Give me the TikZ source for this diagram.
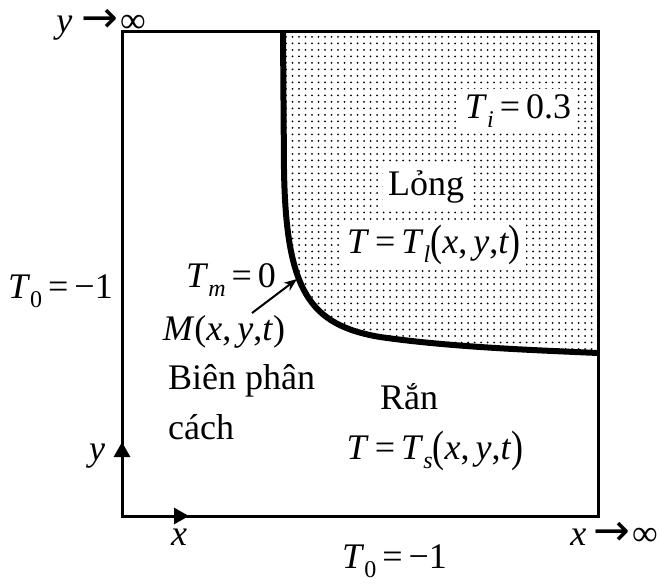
\documentclass[tikz,border=0pt]{standalone}
\usepackage{fontspec}
\setmainfont{Liberation Serif}
\newfontfamily\dvfont{DejaVu Sans}
\usepackage{graphicx}
\usetikzlibrary{arrows.meta,patterns}
\pgfdeclarepatternformonly{mydots}{\pgfqpoint{-1pt}{-1pt}}{\pgfqpoint{1pt}{1pt}}{\pgfqpoint{6.5pt}{6.5pt}}{\pgfpathcircle{\pgfqpoint{0pt}{0pt}}{1pt}\pgfusepath{fill}}
\newcommand{\vi}[1]{\textit{#1}}
\newcommand{\sbs}[1]{\raisebox{-0.26em}{\fontsize{24}{24}\selectfont #1}}
\newcommand{\bp}[1]{\raisebox{-0.08em}{\scalebox{1}[1.22]{#1}}}
\newcommand{\eqs}{\,=\,}
\newcommand{\toar}{{\dvfont\fontsize{44}{44}\selectfont →}}
\begin{document}
\begin{tikzpicture}[x=1pt,y=-1pt,
  every node/.style={font=\fontsize{36}{42}\selectfont, inner sep=0pt},
  lbl/.style={anchor=base},
  wlbl/.style={anchor=base, fill=white, inner xsep=5pt, inner ysep=5pt},
  boxline/.style={line width=3pt, line join=miter},
  front/.style={line width=6pt, line cap=butt},
  axisarrow/.style={line width=3pt, -{Triangle[length=15pt,width=16pt]}},
  pointer/.style={line width=2pt, -{Stealth[length=13pt,width=10pt]}}]
\useasboundingbox (0,0) rectangle (660,583);
% corners
\coordinate (tl) at (122,32);
\coordinate (tr) at (598,32);
\coordinate (br) at (598,516);
\coordinate (bl) at (122,516);
\coordinate (c0) at (283,32);
\coordinate (c1) at (598,353);
\coordinate (ytip) at (122,442);
\coordinate (xtip) at (189,516);
\coordinate (mpt) at (297,279);
\coordinate (mtail) at (252,313);
% liquid region
\fill[pattern=mydots] (c0) -- (284,170) .. controls (286,292) and (310,325) .. (380,337)
   .. controls (450,347) and (530,350) .. (c1) -- (tr) -- cycle;
% box
\draw[boxline] (bl) -- (tl) -- (tr) -- (br) -- cycle;
% front
\draw[front] (c0) -- (284,170) .. controls (286,292) and (310,325) .. (380,337)
   .. controls (450,347) and (530,350) .. (c1);
% axes
\draw[axisarrow] (bl) -- (ytip);
\draw[axisarrow] (bl) -- (xtip);
% labels
\node[anchor=base east] (yinf) at (146,33) {\vi{y}\hspace{9pt}\toar\hspace{2pt}∞};
\node[anchor=base east] (xinf) at (658,545) {\vi{x}\hspace{7pt}\toar\hspace{2pt}∞};
\node[anchor=base east] (t0l) at (113,298) {\vi{T}\sbs{0}\eqs−1};
\node[anchor=base west] (t0b) at (342,568) {\vi{T}\sbs{0}\eqs−1};
\node[lbl] (ylab) at (97,460) {\vi{y}};
\node[lbl] (xlab) at (179,545) {\vi{x}};
\node[wlbl] (ti) at (518,118) {\vi{T}\sbs{\vi{i}}\eqs0.3};
\node[wlbl] (long) at (426,195) {Lỏng};
\node[wlbl] (tl2) at (434,253) {\vi{T}\eqs\vi{T}\sbs{\vi{l}}\bp{(}\vi{x},\,\vi{y},\vi{t}\bp{)}};
\node[lbl] (tm) at (231,287) {\vi{T}\sbs{\vi{m}}\eqs0};
\node[lbl] (mlab) at (224,340) {\vi{M}(\vi{x},\,\vi{y},\vi{t})};
\node[anchor=base west] (bien1) at (168,389) {Biên phân};
\node[anchor=base west] (bien2) at (168,439) {cách};
\node[lbl] (ran) at (409,409) {Rắn};
\node[lbl] (ts) at (435,459) {\vi{T}\eqs\vi{T}\sbs{\vi{s}}\bp{(}\vi{x},\,\vi{y},\vi{t}\bp{)}};
% pointer
\draw[pointer] (mtail) -- (mpt);
\end{tikzpicture}
\end{document}
